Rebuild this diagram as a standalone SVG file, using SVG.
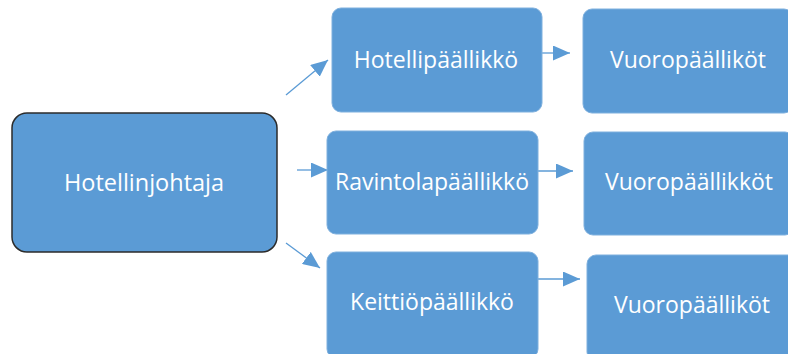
<svg xmlns="http://www.w3.org/2000/svg" width="788" height="354" viewBox="0 0 788 354">
<defs>
<style>
.box{fill:#5B9BD5;stroke:#7fb0de;stroke-width:1}
.root{fill:#5B9BD5;stroke:#2b2b2b;stroke-width:1.5}
.t{fill:#ffffff;font-family:"Open Sans","Liberation Sans",sans-serif;font-size:23px;text-anchor:middle}
.c{stroke:#5B9BD5;stroke-width:1.3;fill:none;marker-end:url(#ah)}
</style>
<marker id="ah" markerUnits="userSpaceOnUse" markerWidth="18" markerHeight="15" refX="17" refY="7.5" orient="auto">
<path d="M0,0 L17,7.5 L0,15 z" fill="#5B9BD5"/>
</marker>
</defs>
<rect width="788" height="354" fill="#ffffff"/>
<g id="connectors">
<line class="c" x1="286" y1="95" x2="328" y2="60"/>
<line class="c" x1="297" y1="170" x2="328" y2="170"/>
<line class="c" x1="286" y1="243" x2="320" y2="268"/>
<line class="c" x1="542" y1="53" x2="570" y2="53"/>
<line class="c" x1="538" y1="171" x2="573" y2="171"/>
<line class="c" x1="538" y1="279" x2="580" y2="279"/>
</g>
<g id="hotellinjohtaja">
<rect class="root" x="12" y="113" width="265" height="139" rx="15"/>
<text class="t" x="144" y="191" style="font-size:23.5px">Hotellinjohtaja</text>
</g>
<g id="hotellipaallikko">
<rect class="box" x="332" y="8" width="210" height="104" rx="9"/>
<text class="t" x="436" y="68">Hotellipäällikkö</text>
</g>
<g id="ravintolapaallikko">
<rect class="box" x="327" y="131" width="211" height="103" rx="9"/>
<text class="t" x="432" y="190">Ravintolapäällikkö</text>
</g>
<g id="keittiopaallikko">
<rect class="box" x="327" y="252" width="211" height="106" rx="9"/>
<text class="t" x="432" y="310">Keittiöpäällikkö</text>
</g>
<g id="vuoro1">
<rect class="box" x="583" y="9" width="210" height="104" rx="9"/>
<text class="t" x="688" y="68">Vuoropäälliköt</text>
</g>
<g id="vuoro2">
<rect class="box" x="584" y="132" width="210" height="103" rx="9"/>
<text class="t" x="689" y="190">Vuoropäällikköt</text>
</g>
<g id="vuoro3">
<rect class="box" x="587" y="255" width="210" height="106" rx="9"/>
<text class="t" x="692" y="313">Vuoropäälliköt</text>
</g>
</svg>
